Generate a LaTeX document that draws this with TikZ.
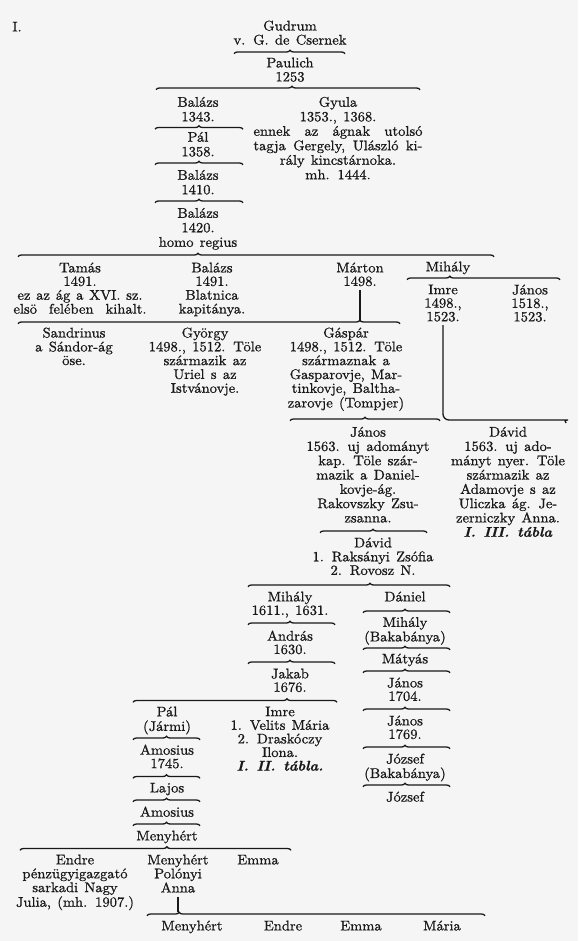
\documentclass[tikz,border=0pt]{standalone}
\usepackage{graphicx}
\usepackage{fontspec}
\setmainfont{lmroman10-regular.otf}[FakeBold=0.9, FakeStretch=1.04, WordSpace=1.3, BoldFont=lmroman10-bold.otf, ItalicFont=lmroman10-italic.otf, BoldItalicFont=lmroman10-bolditalic.otf]
\usetikzlibrary{decorations.pathreplacing}
\definecolor{paper}{RGB}{245,245,245}
\definecolor{ink}{RGB}{25,25,25}
\newcommand\fs{\fontsize{14}{14}\selectfont}
\newcommand\pitch[1]{\fontsize{14}{#1}\selectfont}
\newcommand\blk[1]{\begin{tabular}{@{}c@{}}#1\end{tabular}}
\tikzset{
 lbl/.style={anchor=north, inner sep=0pt, outer sep=0pt, font=\fs, text=ink, yshift=5.4pt},
 br/.style={decorate, decoration={brace, amplitude=3.5pt, aspect=#1}, line width=1.3pt, draw=ink},
 rule/.style={line width=1.3pt, draw=ink},
}
\newcommand\brc[5]{\coordinate (#1l) at (#2,#4+1.75); \coordinate (#1r) at (#3,#4+1.75); \draw[br=#5] (#1l) -- (#1r);}
\begin{document}
\begin{tikzpicture}[x=1pt,y=-1pt]
\fill[paper] (0,0) rectangle (578,941);
\useasboundingbox (0,0) rectangle (578,941);
% top
\node[lbl] (roman) at (17,27) {\blk{I.}};
\node[lbl] (gudrum) at (290,26) {\blk{Gudrum\\v. G. de Csernek}};
\brc{bA}{234}{345}{52}{0.505}
\node[lbl] (paulich) at (290,63) {\blk{Paulich\\1253}};
\brc{bB}{156}{420}{88}{0.515}
\node[lbl, font=\pitch{14.5}] (balazsA) at (198,102) {\blk{Balázs\\1343.}};
\node[lbl, font=\pitch{14.5}] (gyula) at (338,102) {\blk{Gyula\\1353., 1368.\\\makebox[169pt][s]{ennek az ágnak utolsó}\\\makebox[169pt][s]{tagja Gergely, Ulászló ki-}\\rály kincstárnoka.\\mh. 1444.}};
\brc{bC}{155}{243}{127.5}{0.5}
\node[lbl, font=\pitch{14.5}] (palA) at (198,137) {\blk{Pál\\1358.}};
\brc{bD}{155}{243}{163}{0.5}
\node[lbl, font=\pitch{14.5}] (balazsB) at (198,175) {\blk{Balázs\\1410.}};
\brc{bE}{155}{243}{201}{0.5}
\node[lbl, font=\pitch{14.5}] (balazsC) at (198,213) {\blk{Balázs\\1420.\\homo regius}};
\brc{bR}{18}{494}{255}{0.378}
% row 2
\node[lbl, font=\pitch{13.5}] (tamas) at (80,268) {\blk{Tamás\\1491.\\\makebox[125pt][s]{ez az ág a XVI. sz.}\\\makebox[133pt][s]{elsö felében kihalt.}}};
\node[lbl, font=\pitch{13.5}] (balazsD) at (212,268) {\blk{Balázs\\1491.\\Blatnica\\kapitánya.}};
\node[lbl, font=\pitch{13.5}] (marton) at (360,268) {\blk{Márton\\1498.}};
\node[lbl] (mihalyA) at (448,267) {\blk{Mihály}};
\brc{bMi}{407}{560}{278}{0.28}
\node[lbl, font=\pitch{13.5}] (imreA) at (443,290) {\blk{Imre\\1498.,\\1523.}};
\node[lbl, font=\pitch{13.5}] (janosA) at (530,290) {\blk{János\\1518.,\\1523.}};
\brc{bF}{18}{400}{322}{0.895}
\coordinate (bFtip) at (360,320.25);
\draw[rule] (marton.south) -- (bFtip);
\coordinate (iEnd) at (562,420);
\draw[rule, rounded corners=6pt] (imreA.south) |- (iEnd) to[out=0,in=120] ++(4,3);
% row 3
\node[lbl, font=\pitch{13.6}] (sandrinus) at (74,333) {\blk{Sandrinus\\a Sándor-ág\\öse.}};
\node[lbl, font=\pitch{13.6}] (gyorgy) at (205,333) {\blk{György\\1498., 1512. Töle\\származik az\\Uriel s az\\Istvánovje.}};
\node[lbl, font=\pitch{13.6}] (gaspar) at (346,333) {\blk{Gáspár\\1498., 1512. Töle\\származnak a\\Gasparovje, Mar-\\tinkovje, Baltha-\\zarovje (Tompjer)}};
\brc{bG}{290}{440}{419}{0.5}
% row 4
\node[lbl, font=\pitch{14.3}] (janosB) at (368,432) {\blk{János\\1563. uj adományt\\kap. Töle szár-\\mazik a Daniel-\\kovje-ág.\\Rakovszky Zsu-\\zsanna.}};
\node[lbl, font=\pitch{14.3}] (davidA) at (508,432) {\blk{Dávid\\1563. uj ado-\\mányt nyer. Töle\\származik az\\Adamovje s az\\Uliczka ág. Je-\\zerniczky Anna.\\\textbf{\textit{I. III. tábla}}}};
\brc{bH}{320}{427}{531}{0.495}
\node[lbl, font=\pitch{13.5}] (davidB) at (373,543) {\blk{Dávid\\1. Raksányi Zsófia\\2. Rovosz N.}};
\brc{bI}{248}{450}{585}{0.604}
% left lower column
\node[lbl, font=\pitch{13.5}] (mihalyB) at (290,597) {\blk{Mihály\\1611., 1631.}};
\brc{bJ}{248}{335}{623}{0.483}
\node[lbl, font=\pitch{13.3}] (andras) at (290,636) {\blk{András\\1630.}};
\brc{bK}{248}{335}{662}{0.483}
\node[lbl, font=\pitch{13.3}] (jakab) at (290,674) {\blk{Jakab\\1676.}};
\brc{bL}{133}{337}{700.5}{0.755}
\node[lbl, font=\pitch{13.3}] (palB) at (167,712) {\blk{Pál\\(Jármi)}};
\node[lbl, font=\pitch{12.8}] (imreB) at (280,712) {\blk{Imre\\1. Velits Mária\\2. Draskóczy\\Ilona.\\\textbf{\textit{I. II. tábla.}}}};
\brc{bP}{133}{200}{738}{0.5}
\node[lbl, font=\pitch{13.3}] (amosA) at (167,750) {\blk{Amosius\\1745.}};
\brc{bS}{133}{200}{776.5}{0.5}
\node[lbl] (lajos) at (167,788) {\blk{Lajos}};
\brc{bT}{133}{200}{800}{0.5}
\node[lbl] (amosB) at (167,812) {\blk{Amosius}};
\brc{bU}{133}{200}{824}{0.5}
\node[lbl] (menyA) at (167,836) {\blk{Menyhért}};
\brc{bQ}{20}{291}{848.5}{0.542}
\node[lbl, font=\pitch{13.8}] (endreA) at (75,860) {\blk{Endre\\pénzügyigazgató\\sarkadi Nagy\\Julia, (mh. 1907.)}};
\node[lbl, font=\pitch{13.8}] (menyB) at (178,860) {\blk{Menyhért\\Polónyi\\Anna}};
\node[lbl] (emmaA) at (258,860) {\blk{Emma}};
\brc{bM}{147}{485}{914}{0.095}
\coordinate (bMtip) at (179,912.25);
\draw[rule] (menyB.south) -- (menyB.south |- bMtip);
\node[lbl] (menyC) at (192,926) {\blk{Menyhért}};
\node[lbl] (endreB) at (283,926) {\blk{Endre}};
\node[lbl] (emmaB) at (361,926) {\blk{Emma}};
\node[lbl] (maria) at (442,926) {\blk{Mária}};
% right lower column
\node[lbl] (daniel) at (405,597) {\blk{Dániel}};
\brc{bDa}{363}{450}{611}{0.483}
\node[lbl, font=\pitch{13.3}] (mihalyC) at (405,622.5) {\blk{Mihály\\(Bakabánya)}};
\brc{bDb}{363}{450}{648}{0.483}
\node[lbl] (matyas) at (405,659) {\blk{Mátyás}};
\brc{bDc}{363}{450}{671}{0.483}
\node[lbl, font=\pitch{13.3}] (janosC) at (405,683) {\blk{János\\1704.}};
\brc{bDd}{363}{450}{709}{0.483}
\node[lbl, font=\pitch{13.3}] (janosD) at (405,721) {\blk{János\\1769.}};
\brc{bDe}{363}{450}{747}{0.483}
\node[lbl, font=\pitch{13.3}] (jozsefA) at (405,759) {\blk{József\\(Bakabánya)}};
\brc{bDf}{363}{450}{785}{0.483}
\node[lbl] (jozsefB) at (405,797) {\blk{József}};
\end{tikzpicture}
\end{document}
